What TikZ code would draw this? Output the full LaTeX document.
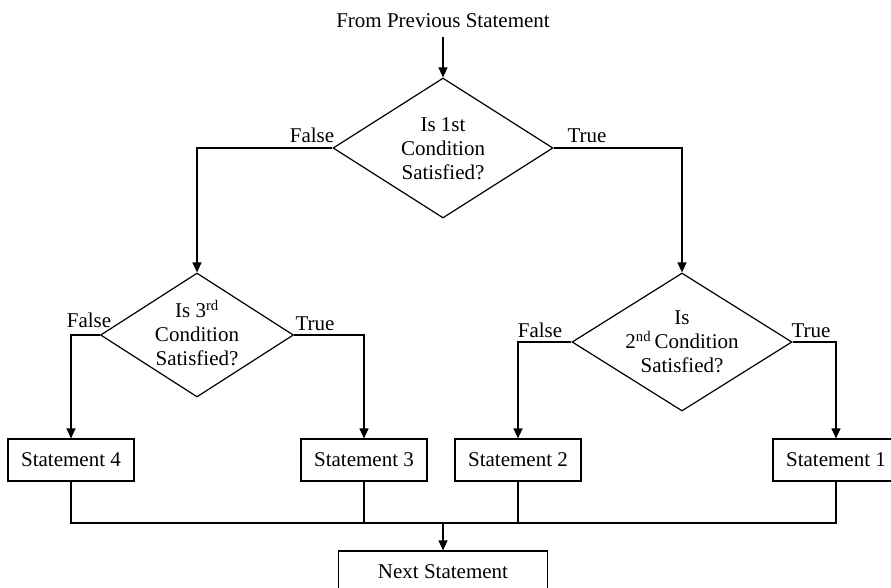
\documentclass[tikz,border=0pt]{standalone}
\usepackage{fontspec}
\setmainfont{Liberation Serif}
\usetikzlibrary{shapes.geometric,arrows.meta}
\begin{document}
\begin{tikzpicture}[x=1pt,y=-1pt,
  every node/.style={font=\fontsize{21}{24}\selectfont},
  line/.style={line width=1.2pt},
  arr/.style={line, -{Triangle[length=10pt,width=9pt]}},
  dia/.style={draw, line width=1.2pt, shape=diamond, inner sep=0pt},
  diatext/.style={align=center, inner sep=0pt},
  stbox/.style={draw, line width=1.2pt, minimum width=126pt, minimum height=42pt, inner sep=0pt},
  lbl/.style={inner sep=0pt, anchor=base}]
\useasboundingbox (0,0) rectangle (891,587);

% start text
\node[inner xsep=2pt, inner ysep=9pt] (src) at (443,21) {From Previous Statement};

% decisions
\node[dia, minimum width=220pt, minimum height=140pt] (d1) at (443,148) {};
\node[diatext] (d1t) at (443,149) {Is 1st\\Condition\\Satisfied?};

\node[dia, minimum width=193pt, minimum height=124pt] (d3) at (197,335) {};
\node[diatext] (d3t) at (197,333) {Is 3\textsuperscript{rd}\\Condition\\Satisfied?};

\node[dia, minimum width=220pt, minimum height=138pt] (d2) at (682,342) {};
\node[diatext] (d2t) at (682,342) {Is\\2\textsuperscript{nd}\,Condition\\Satisfied?};

% statements
\node[stbox] (s4) at (71,460) {Statement 4};
\node[stbox] (s3) at (364,460) {Statement 3};
\node[stbox] (s2) at (518,460) {Statement 2};
\node[stbox] (s1) at (836,460) {Statement 1};
\node[stbox, minimum width=209pt] (next) at (443,572) {Next Statement};

% labels
\node[lbl] (f1) at (312,142) {False};
\node[lbl] (t1) at (587,142) {True};
\node[lbl] (f3) at (89,327) {False};
\node[lbl] (t3) at (315,330) {True};
\node[lbl] (f2) at (540,337) {False};
\node[lbl] (t2) at (811,337) {True};

% connectors
\draw[arr] (src.south) -- (d1.north);
\draw[arr] (d1.west) -| (d3.north);
\draw[arr] (d1.east) -| (d2.north);
\draw[arr] (d3.west) -| (s4.north);
\draw[arr] (d3.east) -| (s3.north);
\draw[arr] (d2.west) -| (s2.north);
\draw[arr] (d2.east) -| (s1.north);

\coordinate (bus) at (443,523);
\draw[line] (s4.south) |- (bus) -| (s1.south);
\draw[line] (s3.south) -- (s3.south |- bus);
\draw[line] (s2.south) -- (s2.south |- bus);
\draw[arr] (bus) -- (next.north);
\end{tikzpicture}
\end{document}
